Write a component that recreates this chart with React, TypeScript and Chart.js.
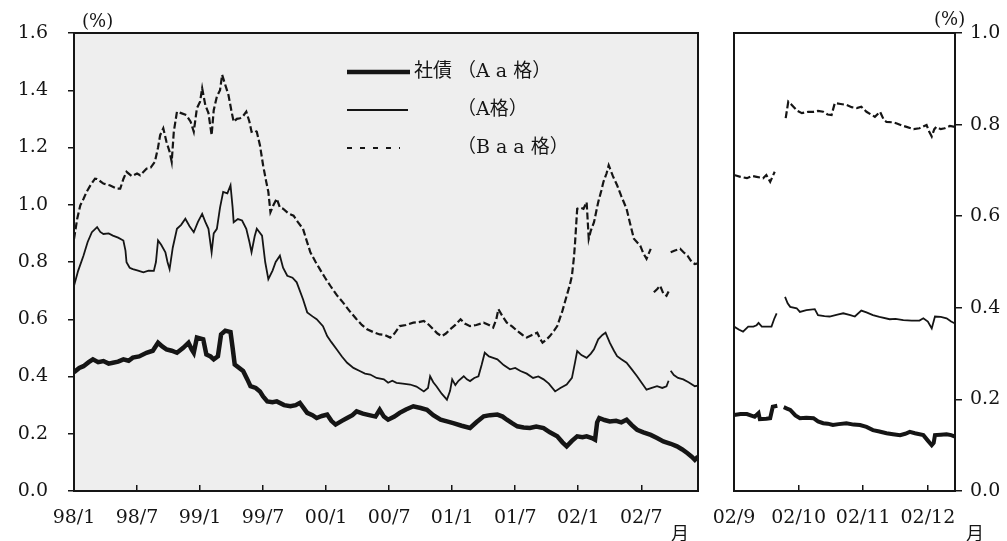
import React, { useEffect, useRef } from 'react';
import { Chart, registerables } from 'chart.js';
Chart.register(...registerables);

// ---------- data (x = months since start of panel, y = %) ----------
// Left panel: months since 1998/1
const LEFT_X_TICKS = [0, 6, 12, 18, 24, 30, 36, 42, 48, 54];
const LEFT_X_LABELS = ['98/1', '98/7', '99/1', '99/7', '00/1', '00/7', '01/1', '01/7', '02/1', '02/7'];
const LEFT_X_MAX = 59.4;
const LEFT_Y_MAX = 1.6;

// Right panel: months since 2002/9
const RIGHT_X_TICKS = [0, 1, 2, 3];
const RIGHT_X_LABELS = ['02/9', '02/10', '02/11', '02/12'];
const RIGHT_X_MAX = 3.42;
const RIGHT_Y_MAX = 1.0;

const Y_STEP = 0.2;

const LEGEND_PREFIX = ['社債', '', ''];
const LEGEND_GRADE = ['（A a 格）', '（A格）', '（B a a 格）'];

type P = [number, number | null];

const LEFT_AA: P[] = [
  [0, 0.415], [0.5, 0.43], [0.9, 0.436], [1.4, 0.45], [1.8, 0.46], [2.3, 0.45], [2.8, 0.454], [3.3, 0.445], [3.7, 0.448],
  [4.2, 0.452], [4.7, 0.46], [5.2, 0.455], [5.6, 0.466], [6.2, 0.47], [6.9, 0.483], [7.5, 0.49], [8.0, 0.518], [8.4, 0.505],
  [8.8, 0.495], [9.3, 0.49], [9.8, 0.483], [10.4, 0.5], [10.9, 0.518], [11.2, 0.495], [11.4, 0.483], [11.7, 0.536], [12.3, 0.53],
  [12.6, 0.477], [13.0, 0.47], [13.3, 0.46], [13.7, 0.471], [14.0, 0.547], [14.4, 0.56], [14.9, 0.555], [15.1, 0.5], [15.3, 0.442],
  [16.1, 0.419], [16.5, 0.39], [16.8, 0.366], [17.3, 0.36], [17.7, 0.348], [18.0, 0.33], [18.4, 0.313], [18.9, 0.31], [19.3, 0.313],
  [20.0, 0.3], [20.6, 0.296], [21.1, 0.3], [21.5, 0.308], [22.2, 0.273], [22.7, 0.265], [23.1, 0.255], [23.6, 0.262], [24.1, 0.267],
  [24.5, 0.245], [24.9, 0.232], [25.5, 0.245], [26.0, 0.255], [26.5, 0.265], [26.9, 0.278], [27.5, 0.27], [28.2, 0.264], [28.7, 0.26],
  [29.1, 0.284], [29.5, 0.26], [29.9, 0.249], [30.5, 0.26], [31.0, 0.273], [31.6, 0.285], [32.3, 0.296], [33.0, 0.29], [33.6, 0.284],
  [34.2, 0.265], [34.9, 0.249], [35.5, 0.243], [36.1, 0.237], [36.9, 0.228], [37.7, 0.22], [38.3, 0.24], [39.0, 0.261], [39.6, 0.265],
  [40.3, 0.267], [40.8, 0.26], [41.2, 0.249], [41.7, 0.237], [42.2, 0.226], [42.8, 0.222], [43.4, 0.22], [44.0, 0.225], [44.7, 0.22],
  [45.3, 0.205], [46.0, 0.191], [46.5, 0.17], [46.9, 0.156], [47.4, 0.175], [47.9, 0.191], [48.4, 0.188], [48.8, 0.191], [49.3, 0.185],
  [49.6, 0.179], [49.8, 0.24], [50.0, 0.255], [50.5, 0.248], [51.0, 0.243], [51.6, 0.245], [52.1, 0.24], [52.6, 0.249], [53.1, 0.23],
  [53.6, 0.214], [54.2, 0.205], [54.9, 0.196], [55.5, 0.185], [56.1, 0.173], [56.8, 0.165], [57.4, 0.156], [57.9, 0.145], [58.4, 0.132],
  [58.8, 0.12], [59.1, 0.109], [59.4, 0.12],
];

const LEFT_A: P[] = [
  [0, 0.717], [0.4, 0.77], [0.9, 0.822], [1.3, 0.87], [1.7, 0.904], [2.2, 0.922], [2.5, 0.905], [2.8, 0.898], [3.3, 0.9], [3.7, 0.892],
  [4.2, 0.885], [4.7, 0.875], [4.9, 0.84], [5.0, 0.799], [5.3, 0.78], [5.6, 0.775], [6.1, 0.77], [6.6, 0.764], [7.1, 0.77], [7.6, 0.769],
  [7.8, 0.8], [8.0, 0.875], [8.3, 0.86], [8.7, 0.834], [8.9, 0.8], [9.1, 0.775], [9.4, 0.85], [9.8, 0.916], [10.2, 0.93], [10.6, 0.951],
  [11.0, 0.925], [11.4, 0.904], [11.8, 0.94], [12.2, 0.968], [12.5, 0.94], [12.8, 0.916], [13.1, 0.834], [13.3, 0.9], [13.6, 0.916],
  [13.9, 0.99], [14.2, 1.045], [14.6, 1.04], [14.9, 1.068], [15.1, 0.99], [15.2, 0.939], [15.6, 0.95], [16.0, 0.945], [16.4, 0.916],
  [16.7, 0.87], [16.9, 0.834], [17.2, 0.89], [17.4, 0.916], [17.9, 0.892], [18.2, 0.8], [18.5, 0.74], [18.9, 0.77], [19.2, 0.8],
  [19.6, 0.822], [19.9, 0.78], [20.3, 0.752], [20.8, 0.745], [21.2, 0.729], [21.8, 0.67], [22.2, 0.624], [22.7, 0.61], [23.1, 0.6],
  [23.7, 0.576], [24.1, 0.541], [24.5, 0.52], [25.0, 0.495], [25.5, 0.47], [26.0, 0.448], [26.6, 0.43], [27.2, 0.419], [27.7, 0.41],
  [28.2, 0.407], [28.8, 0.395], [29.5, 0.39], [29.9, 0.378], [30.3, 0.385], [30.7, 0.378], [31.3, 0.375], [32.0, 0.372], [32.6, 0.365],
  [33.3, 0.348], [33.7, 0.36], [33.9, 0.401], [34.2, 0.38], [34.5, 0.366], [35.0, 0.34], [35.5, 0.319], [35.8, 0.35], [36.0, 0.39],
  [36.3, 0.37], [36.6, 0.385], [37.1, 0.401], [37.4, 0.39], [37.7, 0.384], [38.1, 0.395], [38.5, 0.401], [38.8, 0.44], [39.1, 0.483],
  [39.5, 0.47], [39.9, 0.465], [40.3, 0.46], [40.9, 0.44], [41.5, 0.425], [42.0, 0.43], [42.5, 0.419], [43.1, 0.41], [43.7, 0.395],
  [44.2, 0.4], [44.7, 0.39], [45.2, 0.375], [45.8, 0.348], [46.3, 0.36], [46.9, 0.372], [47.4, 0.395], [47.7, 0.45], [47.9, 0.489],
  [48.3, 0.475], [48.8, 0.465], [49.2, 0.48], [49.5, 0.495], [49.9, 0.53], [50.3, 0.545], [50.6, 0.553], [51.0, 0.518], [51.4, 0.49],
  [51.7, 0.471], [52.1, 0.46], [52.6, 0.448], [53.1, 0.425], [53.6, 0.401], [54.0, 0.38], [54.5, 0.354], [55.0, 0.36], [55.5, 0.366],
  [56.0, 0.36], [56.4, 0.366], [56.6, 0.385], [56.7, null], [56.8, 0.42], [57.1, 0.405], [57.5, 0.395], [58.0, 0.39], [58.5, 0.38],
  [59.1, 0.366], [59.4, 0.368],
];

const LEFT_BAA: P[] = [
  [0, 0.88], [0.3, 0.95], [0.6, 0.998], [0.9, 1.02], [1.2, 1.045], [1.6, 1.07], [2.0, 1.091], [2.2, 1.09], [2.8, 1.074], [3.4, 1.068],
  [4.1, 1.056], [4.4, 1.056], [4.7, 1.09], [5.0, 1.115], [5.5, 1.1], [6.0, 1.109], [6.3, 1.103], [6.9, 1.126], [7.3, 1.13], [7.7, 1.15],
  [8.0, 1.2], [8.2, 1.243], [8.5, 1.267], [8.8, 1.22], [9.1, 1.185], [9.3, 1.15], [9.5, 1.255], [9.8, 1.325], [10.2, 1.32], [10.7, 1.313],
  [11.1, 1.29], [11.4, 1.255], [11.7, 1.337], [12.0, 1.36], [12.2, 1.407], [12.5, 1.348], [12.8, 1.32], [13.1, 1.243], [13.3, 1.33],
  [13.6, 1.378], [13.9, 1.4], [14.1, 1.454], [14.4, 1.419], [14.7, 1.384], [15.0, 1.325], [15.2, 1.29], [15.5, 1.3], [15.8, 1.302],
  [16.1, 1.31], [16.4, 1.325], [16.7, 1.29], [16.9, 1.255], [17.2, 1.26], [17.4, 1.255], [17.7, 1.208], [18.0, 1.138], [18.3, 1.08],
  [18.5, 1.045], [18.7, 0.974], [19.0, 1.0], [19.3, 1.021], [19.6, 0.99], [19.9, 0.986], [20.4, 0.97], [20.9, 0.962], [21.3, 0.94],
  [21.8, 0.916], [22.1, 0.88], [22.5, 0.834], [23.0, 0.8], [23.4, 0.775], [23.9, 0.745], [24.4, 0.717], [25.0, 0.685], [25.6, 0.659],
  [26.2, 0.63], [26.9, 0.6], [27.4, 0.58], [27.9, 0.565], [28.5, 0.555], [29.1, 0.547], [29.6, 0.545], [30.1, 0.536], [30.5, 0.55],
  [31.0, 0.576], [31.6, 0.58], [32.3, 0.588], [32.8, 0.59], [33.3, 0.594], [33.8, 0.58], [34.2, 0.565], [34.6, 0.55], [35.0, 0.541],
  [35.4, 0.55], [35.8, 0.565], [36.3, 0.58], [36.8, 0.6], [37.2, 0.585], [37.7, 0.576], [38.3, 0.58], [39.0, 0.588], [39.5, 0.58],
  [39.9, 0.571], [40.2, 0.6], [40.4, 0.635], [40.8, 0.61], [41.2, 0.588], [41.7, 0.575], [42.2, 0.559], [42.7, 0.545], [43.1, 0.536],
  [43.6, 0.545], [44.1, 0.553], [44.4, 0.53], [44.6, 0.518], [45.0, 0.53], [45.3, 0.541], [45.7, 0.56], [46.0, 0.576], [46.5, 0.63],
  [46.9, 0.682], [47.2, 0.72], [47.4, 0.752], [47.6, 0.82], [47.7, 0.869], [47.9, 0.986], [48.2, 0.99], [48.5, 0.986], [48.8, 1.009],
  [49.0, 0.881], [49.2, 0.91], [49.5, 0.939], [49.9, 1.009], [50.2, 1.05], [50.4, 1.08], [50.7, 1.11], [50.9, 1.138], [51.3, 1.1],
  [51.7, 1.068], [52.1, 1.03], [52.6, 0.986], [52.9, 0.94], [53.3, 0.881], [53.9, 0.857], [54.2, 0.83], [54.5, 0.811], [54.9, 0.846],
  [55.0, null], [55.2, 0.694], [55.5, 0.705], [55.8, 0.717], [56.1, 0.69], [56.4, 0.682], [56.6, 0.697], [56.7, null], [56.8, 0.834],
  [57.2, 0.84], [57.7, 0.846], [58.0, 0.835], [58.4, 0.822], [58.8, 0.8], [59.1, 0.793], [59.4, 0.795],
];

const RIGHT_AA: P[] = [
  [0, 0.166], [0.1, 0.168], [0.2, 0.168], [0.32, 0.162], [0.38, 0.17], [0.4, 0.157], [0.5, 0.158], [0.56, 0.159], [0.6, 0.184],
  [0.67, 0.186], [0.72, null], [0.77, 0.183], [0.82, 0.18], [0.87, 0.177], [0.95, 0.165], [1.02, 0.159], [1.12, 0.16], [1.23, 0.159],
  [1.3, 0.152], [1.38, 0.148], [1.45, 0.147], [1.53, 0.144], [1.62, 0.146], [1.74, 0.148], [1.85, 0.145], [1.95, 0.144], [2.05, 0.14],
  [2.15, 0.133], [2.25, 0.13], [2.36, 0.126], [2.46, 0.124], [2.57, 0.122], [2.65, 0.125], [2.72, 0.129], [2.8, 0.126], [2.93, 0.122],
  [3.0, 0.11], [3.06, 0.1], [3.09, 0.105], [3.11, 0.122], [3.2, 0.123], [3.29, 0.124], [3.36, 0.122], [3.42, 0.119],
];

const RIGHT_A: P[] = [
  [0, 0.359], [0.08, 0.352], [0.14, 0.348], [0.22, 0.359], [0.3, 0.359], [0.35, 0.362], [0.38, 0.367], [0.43, 0.359], [0.5, 0.359],
  [0.58, 0.359], [0.62, 0.375], [0.66, 0.388], [0.72, null], [0.79, 0.424], [0.83, 0.41], [0.87, 0.402], [0.97, 0.399], [1.02, 0.391],
  [1.12, 0.395], [1.25, 0.397], [1.3, 0.384], [1.4, 0.382], [1.48, 0.381], [1.6, 0.385], [1.69, 0.388], [1.8, 0.384], [1.87, 0.381],
  [1.97, 0.394], [2.05, 0.39], [2.15, 0.384], [2.25, 0.38], [2.41, 0.375], [2.5, 0.376], [2.62, 0.373], [2.75, 0.372], [2.87, 0.372],
  [2.93, 0.377], [3.0, 0.37], [3.06, 0.355], [3.11, 0.381], [3.2, 0.38], [3.29, 0.377], [3.36, 0.37], [3.42, 0.366],
];

const RIGHT_BAA: P[] = [
  [0, 0.69], [0.1, 0.686], [0.2, 0.683], [0.28, 0.688], [0.35, 0.686], [0.45, 0.683], [0.5, 0.69], [0.56, 0.675], [0.63, 0.697],
  [0.72, null], [0.8, 0.814], [0.84, 0.85], [0.88, 0.845], [0.92, 0.839], [0.98, 0.83], [1.05, 0.825], [1.15, 0.828], [1.23, 0.828],
  [1.3, 0.83], [1.38, 0.828], [1.45, 0.822], [1.51, 0.821], [1.56, 0.847], [1.65, 0.845], [1.74, 0.843], [1.82, 0.838], [1.9, 0.836],
  [1.97, 0.839], [2.05, 0.828], [2.12, 0.822], [2.18, 0.817], [2.26, 0.828], [2.32, 0.81], [2.36, 0.806], [2.45, 0.805], [2.51, 0.803],
  [2.6, 0.798], [2.67, 0.795], [2.78, 0.79], [2.87, 0.792], [2.98, 0.799], [3.02, 0.785], [3.06, 0.774], [3.1, 0.79], [3.13, 0.795],
  [3.2, 0.79], [3.26, 0.792], [3.34, 0.797], [3.42, 0.795],
];

// ---------- styling ----------
const FONT_NUM = "'DejaVu Serif', 'Liberation Serif', serif";
const FONT_CJK = "'Noto Sans CJK JP', 'Noto Sans CJK SC', sans-serif";
const FONT_MIX = "'DejaVu Serif', 'Noto Sans CJK JP', serif";
const INK = '#151515';

const areaPlugin = {
  id: 'areaFrame',
  beforeDraw(chart: any, _a: any, opts: any) {
    const { ctx, chartArea: a } = chart;
    ctx.save();
    ctx.fillStyle = opts.bg || '#fff';
    ctx.fillRect(a.left, a.top, a.right - a.left, a.bottom - a.top);
    ctx.restore();
  },
  afterDraw(chart: any) {
    const { ctx, chartArea: a } = chart;
    ctx.save();
    ctx.strokeStyle = INK;
    ctx.lineWidth = 2;
    ctx.strokeRect(a.left, a.top, a.right - a.left, a.bottom - a.top);
    ctx.restore();
  },
};

const legendPlugin = {
  id: 'inLegend',
  afterDraw(chart: any, _a: any, opts: any) {
    if (!opts || !opts.show) return;
    const { ctx, chartArea: a } = chart;
    const x0 = a.left + opts.dx;
    chart.data.datasets.forEach((ds: any, i: number) => {
      const y = a.top + opts.dy + i * opts.gap;
      ctx.save();
      ctx.strokeStyle = ds.borderColor;
      ctx.lineWidth = ds.borderWidth;
      ctx.setLineDash(opts.dash[i]);
      ctx.beginPath();
      ctx.moveTo(x0, y);
      ctx.lineTo(x0 + opts.len[i], y);
      ctx.stroke();
      ctx.setLineDash([]);
      ctx.fillStyle = INK;
      ctx.font = `19px ${FONT_MIX}`;
      ctx.textBaseline = 'middle';
      ctx.textAlign = 'left';
      if (LEGEND_PREFIX[i]) ctx.fillText(LEGEND_PREFIX[i], x0 + 67, y);
      ctx.fillText(LEGEND_GRADE[i], x0 + 110, y);
      ctx.restore();
    });
  },
};

const toXY = (pts: P[]) => pts.map(([x, y]) => ({ x, y }));

function datasets(aa: P[], a: P[], baa: P[], thick: number) {
  return [
    { label: LEGEND_PREFIX[0] + LEGEND_GRADE[0], data: toXY(aa), borderColor: INK, borderWidth: thick, pointRadius: 0, tension: 0, spanGaps: false },
    { label: LEGEND_GRADE[1], data: toXY(a), borderColor: INK, borderWidth: 1.8, pointRadius: 0, tension: 0, spanGaps: false },
    { label: LEGEND_GRADE[2], data: toXY(baa), borderColor: INK, borderWidth: 2.2, borderDash: [7, 3], pointRadius: 0, tension: 0, spanGaps: false },
  ];
}

function makeConfig(side: 'left' | 'right'): any {
  const isLeft = side === 'left';
  const xt = isLeft ? LEFT_X_TICKS : RIGHT_X_TICKS;
  const xl = isLeft ? LEFT_X_LABELS : RIGHT_X_LABELS;
  const tickFont = { family: FONT_NUM, size: 19 };
  return {
    type: 'line',
    data: {
      datasets: isLeft ? datasets(LEFT_AA, LEFT_A, LEFT_BAA, 4.5) : datasets(RIGHT_AA, RIGHT_A, RIGHT_BAA, 4),
    },
    options: {
      responsive: false,
      animation: false,
      events: [],
      layout: { padding: isLeft ? { top: 33, right: 22, left: 0, bottom: 0 } : { top: 33, right: 0, left: 34, bottom: 0 } },
      plugins: {
        legend: { display: false },
        tooltip: { enabled: false },
        areaFrame: { bg: isLeft ? '#eeeeee' : '#ffffff' },
        inLegend: { show: isLeft, dx: 273, dy: 39, gap: 38, len: [63, 61, 53], dash: [[], [], [5, 8]] },
      },
      scales: {
        x: {
          type: 'linear',
          min: 0,
          max: isLeft ? LEFT_X_MAX : RIGHT_X_MAX,
          afterBuildTicks: (s: any) => { s.ticks = xt.map((v) => ({ value: v })); },
          afterFit: (s: any) => { s.height = 50; s.paddingLeft = 0; s.paddingRight = 0; },
          ticks: {
            autoSkip: false,
            maxRotation: 0,
            minRotation: 0,
            padding: 22,
            color: INK,
            font: tickFont,
            callback: (v: any) => { const i = xt.indexOf(Number(v)); return i >= 0 ? xl[i] : ''; },
          },
          grid: { drawOnChartArea: false, tickLength: -6, color: INK, lineWidth: 1.5 },
          border: { display: true, color: INK, width: 2 },
        },
        y: {
          type: 'linear',
          position: isLeft ? 'left' : 'right',
          min: 0,
          max: isLeft ? LEFT_Y_MAX : RIGHT_Y_MAX,
          afterFit: (s: any) => { s.width = isLeft ? 74 : 52; s.paddingTop = 0; s.paddingBottom = 0; },
          ticks: {
            stepSize: Y_STEP,
            padding: isLeft ? 20 : 8,
            color: INK,
            font: tickFont,
            callback: (v: any) => Number(v).toFixed(1),
          },
          grid: { drawOnChartArea: false, tickLength: isLeft ? 6 : 7, color: INK, lineWidth: 1.5 },
          border: { display: true, color: INK, width: 2 },
        },
      },
    },
    plugins: [areaPlugin, legendPlugin],
  };
}

const txt = (left: number, top: number, font: string, size = 19): React.CSSProperties => ({
  position: 'absolute', left, top, fontFamily: font, fontSize: size, lineHeight: 1, color: INK, whiteSpace: 'nowrap',
});

export default function App() {
  const leftRef = useRef<HTMLCanvasElement>(null);
  const rightRef = useRef<HTMLCanvasElement>(null);
  useEffect(() => {
    const c1 = new Chart(leftRef.current as HTMLCanvasElement, makeConfig('left'));
    const c2 = new Chart(rightRef.current as HTMLCanvasElement, makeConfig('right'));
    return () => { c1.destroy(); c2.destroy(); };
  }, []);
  return (
    <div style={{ position: 'absolute', left: 0, top: 0, width: 1007, height: 541, background: '#fff', overflow: 'hidden' }}>
      <canvas ref={leftRef} width={720} height={541} style={{ position: 'absolute', left: 0, top: 0 }} />
      <canvas ref={rightRef} width={307} height={541} style={{ position: 'absolute', left: 700, top: 0 }} />
      <span style={txt(82, 12, FONT_NUM, 18)}>(%)</span>
      <span style={txt(934, 10, FONT_NUM, 18)}>(%)</span>
      <span style={txt(671, 523, FONT_CJK, 18)}>月</span>
      <span style={txt(966, 523, FONT_CJK, 18)}>月</span>
    </div>
  );
}
